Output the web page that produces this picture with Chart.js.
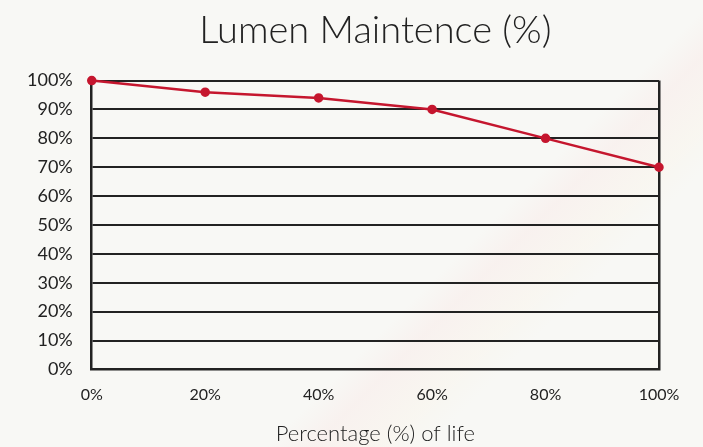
<!DOCTYPE html>
<html>
<head>
<meta charset="utf-8">
<script src="https://cdn.jsdelivr.net/npm/chart.js@4/dist/chart.umd.min.js"></script>
<style>
  html, body { margin: 0; padding: 0; }
  body {
    width: 703px; height: 447px; overflow: hidden;
    background:
      linear-gradient(135deg, transparent 62%, rgba(250, 200, 200, 0.14) 66%, rgba(255, 230, 200, 0.10) 72%, transparent 76%),
      #f8f8f5;
  }
  .wrap { position: relative; width: 703px; height: 447px; }
</style>
</head>
<body>
<div class="wrap"><canvas id="chart"></canvas></div>
<script>
const lifeLabels = ['0%', '20%', '40%', '60%', '80%', '100%'];
const lumenValues = [100, 96, 94, 90, 80, 70];
const yTicks = [0, 10, 20, 30, 40, 50, 60, 70, 80, 90, 100];

const lineColor = '#c5162e';
const inkColor = '#222222';
const fontFamily = 'Lato, "Open Sans", sans-serif';

const ctx = document.getElementById('chart').getContext('2d');
new Chart(ctx, {
  type: 'line',
  data: {
    labels: lifeLabels,
    datasets: [
      {
        label: 'Lumen Maintence',
        data: lumenValues,
        borderColor: lineColor,
        backgroundColor: lineColor,
        borderWidth: 2.5,
        pointRadius: 3.5,
        pointHoverRadius: 3.5,
        tension: 0,
        clip: false
      }
    ]
  },
  options: {
    responsive: true,
    maintainAspectRatio: false,
    animation: false,
    layout: { padding: { left: 8, right: 44, top: 3, bottom: 0 } },
    scales: {
      x: {
        type: 'category',
        offset: false,
        grid: {
          drawTicks: false,
          lineWidth: 2.5,
          color: c => (c.index === lifeLabels.length - 1 ? inkColor : 'transparent')
        },
        border: { display: true, color: inkColor, width: 2.5 },
        ticks: {
          color: inkColor,
          padding: 16,
          font: { family: fontFamily, size: 16 }
        },
        title: {
          display: true,
          text: 'Percentage (%) of life',
          color: inkColor,
          padding: { top: 0, bottom: 0 },
          font: { family: fontFamily, size: 22, weight: 300 }
        }
      },
      y: {
        min: 0,
        max: 100,
        afterBuildTicks: axis => { axis.ticks = yTicks.map(v => ({ value: v })); },
        grid: { drawTicks: false, color: inkColor, lineWidth: 2 },
        border: { display: true, color: inkColor, width: 2.5 },
        ticks: {
          color: inkColor,
          padding: 19,
          font: { family: fontFamily, size: 18 },
          callback: v => v + '%'
        }
      }
    },
    plugins: {
      legend: { display: false },
      tooltip: { enabled: false },
      title: {
        display: true,
        fullSize: false,
        text: 'Lumen Maintence (%)',
        color: inkColor,
        padding: { top: 5, bottom: 27 },
        font: { family: fontFamily, size: 38, weight: 300 }
      }
    }
  }
});
</script>
</body>
</html>
